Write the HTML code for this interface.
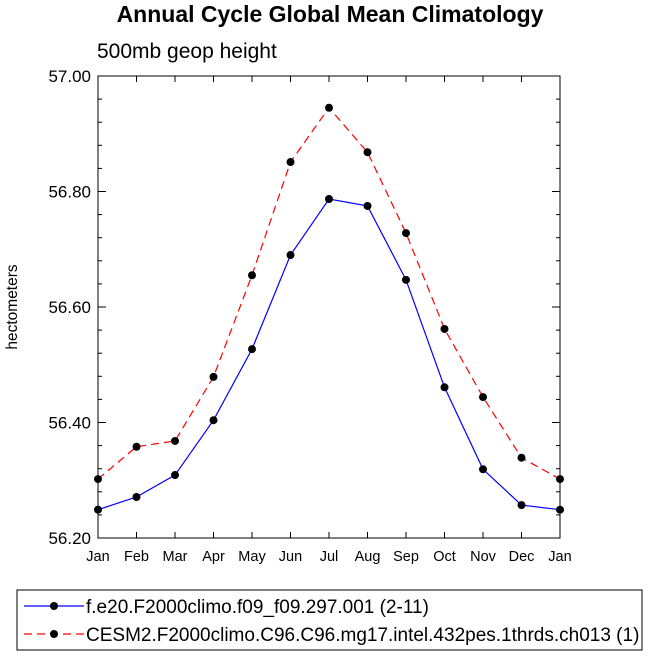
<!DOCTYPE html>
<html><head><meta charset="utf-8"><style>
body{margin:0;background:#fff;}
svg text{font-family:"Liberation Sans",Helvetica,Arial,sans-serif;fill:#000;}
</style></head><body>
<svg width="648" height="658" viewBox="0 0 648 658" xmlns="http://www.w3.org/2000/svg">
<text x="330" y="22" text-anchor="middle" font-size="23" font-weight="bold">Annual Cycle Global Mean Climatology</text>
<text x="97" y="58" font-size="21">500mb geop height</text>
<text transform="translate(17,307) rotate(-90)" text-anchor="middle" font-size="15.5">hectometers</text>
<rect x="98" y="76" width="462" height="462" fill="none" stroke="#000" stroke-width="1"/>
<g id="axes"></g>
<g id="series"></g>
<rect x="17" y="590" width="625" height="60" fill="#fff" stroke="#000" stroke-width="1"/>
<g>
<line x1="24" y1="606" x2="84" y2="606" stroke="#0000ff" stroke-width="1.2"/>
<circle cx="54" cy="606" r="4" fill="#000"/>
<text x="86" y="613" font-size="19">f.e20.F2000climo.f09_f09.297.001 (2-11)</text>
</g>
<g>
<line x1="24" y1="634" x2="84" y2="634" stroke="#ff0000" stroke-width="1.2" stroke-dasharray="8,5"/>
<circle cx="54" cy="634" r="4" fill="#000"/>
<text x="86" y="641" font-size="19">CESM2.F2000climo.C96.C96.mg17.intel.432pes.1thrds.ch013 (1)</text>
</g>
</svg>
<script>
const months = ["Jan","Feb","Mar","Apr","May","Jun","Jul","Aug","Sep","Oct","Nov","Dec","Jan"];
const blueValues = [56.249,56.271,56.309,56.404,56.527,56.690,56.787,56.775,56.647,56.461,56.319,56.257,56.249];
const redValues = [56.302,56.358,56.368,56.479,56.655,56.851,56.945,56.868,56.728,56.562,56.444,56.339,56.302];
const yTicks = [56.2,56.4,56.6,56.8,57.0];
const yTickLabels = ["56.20","56.40","56.60","56.80","57.00"];
const NS="http://www.w3.org/2000/svg";
const X0=98,X1=560,Y0=76,Y1=538,YMIN=56.2,YMAX=57.0;
function xs(i){return X0+(X1-X0)*i/(months.length-1);}
function ys(v){return Y1-(v-YMIN)/(YMAX-YMIN)*(Y1-Y0);}
function mk(tag,attrs,parent){const e=document.createElementNS(NS,tag);for(const k in attrs)e.setAttribute(k,attrs[k]);parent.appendChild(e);return e;}
const axes=document.getElementById('axes');
months.forEach((m,i)=>{
  const x=xs(i);
  const t1=mk('line',{x1:x,y1:Y1,x2:x,y2:Y1-6,stroke:'#000'},axes);
  
  
  const t2=mk('line',{x1:x,y1:Y0,x2:x,y2:Y0+6,stroke:'#000'},axes);
  
  
  const l=mk('text',{x:x,y:Y1+23,'text-anchor':'middle','font-size':'14.5'},axes);
  l.textContent=m;
  
  
});
for(let v=YMIN;v<=YMAX+1e-9;v+=0.04){
  const y=ys(v);
  const major=Math.abs(Math.round(v*5)-v*5)<1e-6;
  const len=major?8:4;
  const a=mk('line',{x1:X0,y1:y,x2:X0+len,y2:y,stroke:'#000'},axes);
  
  
  const b=mk('line',{x1:X1,y1:y,x2:X1-len,y2:y,stroke:'#000'},axes);
  
  
}
yTicks.forEach((v,i)=>{
  const l=mk('text',{x:X0-7,y:ys(v)+6,'text-anchor':'end','font-size':'17'},axes);
  l.textContent=yTickLabels[i];
  
  
});
const sg=document.getElementById('series');
function drawSeries(vals,color,dash,name){
  const pts=vals.map((v,i)=>xs(i)+','+ys(v)).join(' ');
  const pl=mk('polyline',{points:pts,fill:'none',stroke:color,'stroke-width':'1.2'},sg);
  if(dash)pl.setAttribute('stroke-dasharray',dash);
  
  
  vals.forEach((v,i)=>{
    const c=mk('circle',{cx:xs(i),cy:ys(v),r:4,fill:'#000'},sg);
    
    
  });
}
drawSeries(redValues,'#ff0000','8,5','red-series');
drawSeries(blueValues,'#0000ff',null,'blue-series');
</script>
</body></html>
